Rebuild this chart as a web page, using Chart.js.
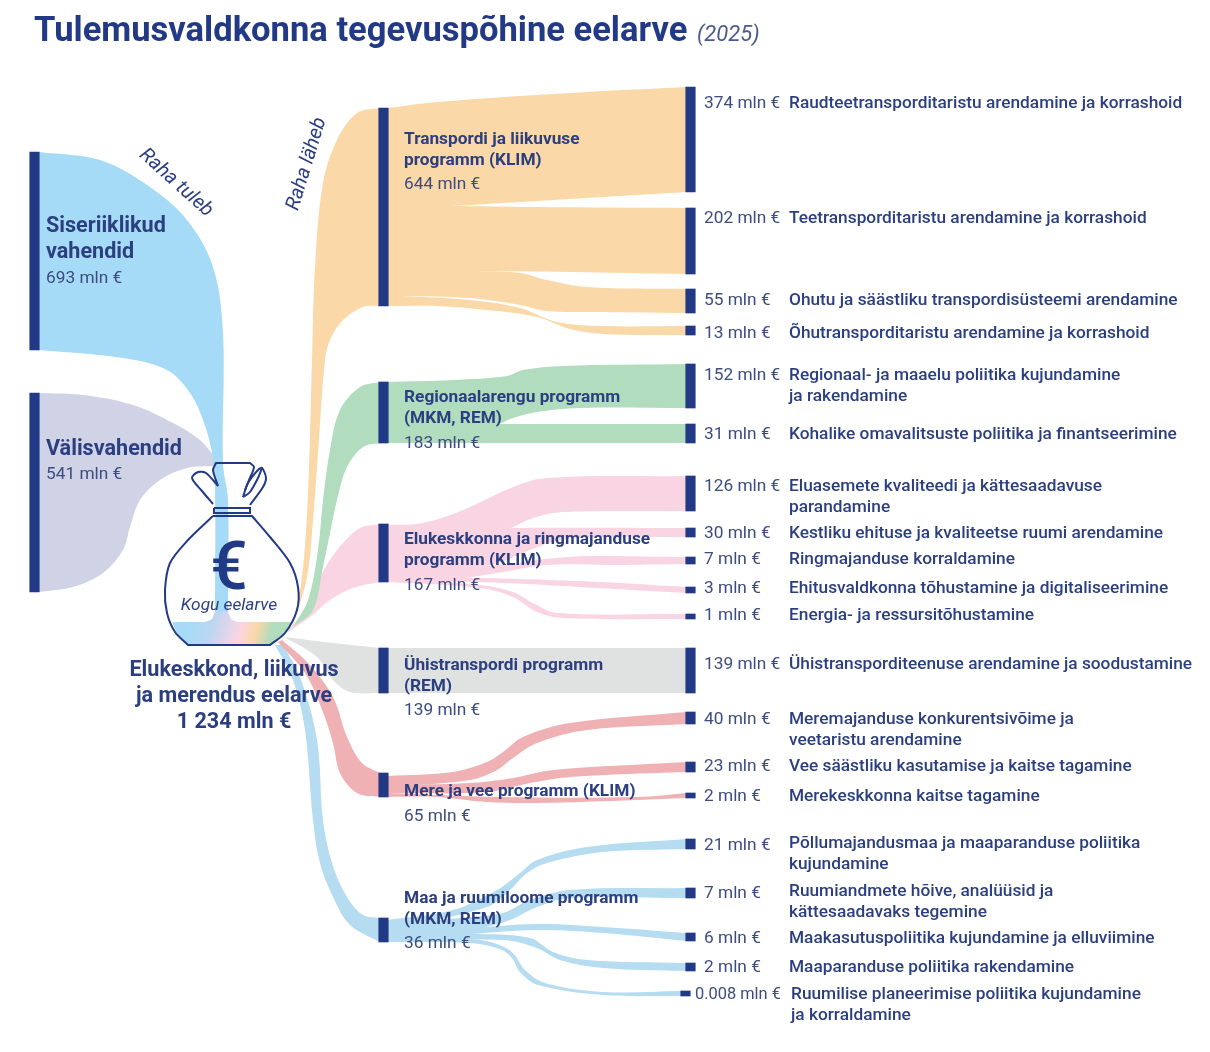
<!DOCTYPE html>
<html>
<head>
<meta charset="utf-8">
<title>Tulemusvaldkonna tegevuspõhine eelarve</title>
<script src="https://cdn.jsdelivr.net/npm/chart.js@4"></script>
<style>
	html, body { margin: 0; padding: 0; background: #fff; }
	canvas { display: block; }
</style>
</head>
<body>
<canvas id="budgetChart" width="1210" height="1052"></canvas>
<script>
// values (mln €)
const sourceNames = [['Siseriiklikud', 'vahendid'], ['Välisvahendid']];
const sourceValues = [693, 541];
const totalName = ['Elukeskkond, liikuvus', 'ja merendus eelarve'];
const totalValue = '1 234';
const programNames = [
	['Transpordi ja liikuvuse', 'programm (KLIM)'],
	['Regionaalarengu programm', '(MKM, REM)'],
	['Elukeskkonna ja ringmajanduse', 'programm (KLIM)'],
	['Ühistranspordi programm', '(REM)'],
	['Mere ja vee programm (KLIM)'],
	['Maa ja ruumiloome programm', '(MKM, REM)']
];
const programValues = [644, 183, 167, 139, 65, 36];
const activityNames = [
	['Raudteetransporditaristu arendamine ja korrashoid'],
	['Teetransporditaristu arendamine ja korrashoid'],
	['Ohutu ja säästliku transpordisüsteemi arendamine'],
	['Õhutransporditaristu arendamine ja korrashoid'],
	['Regionaal- ja maaelu poliitika kujundamine', 'ja rakendamine'],
	['Kohalike omavalitsuste poliitika ja finantseerimine'],
	['Eluasemete kvaliteedi ja kättesaadavuse', 'parandamine'],
	['Kestliku ehituse ja kvaliteetse ruumi arendamine'],
	['Ringmajanduse korraldamine'],
	['Ehitusvaldkonna tõhustamine ja digitaliseerimine'],
	['Energia- ja ressursitõhustamine'],
	['Ühistransporditeenuse arendamine ja soodustamine'],
	['Meremajanduse konkurentsivõime ja', 'veetaristu arendamine'],
	['Vee säästliku kasutamise ja kaitse tagamine'],
	['Merekeskkonna kaitse tagamine'],
	['Põllumajandusmaa ja maaparanduse poliitika', 'kujundamine'],
	['Ruumiandmete hõive, analüüsid ja', 'kättesaadavaks tegemine'],
	['Maakasutuspoliitika kujundamine ja elluviimine'],
	['Maaparanduse poliitika rakendamine'],
	['Ruumilise planeerimise poliitika kujundamine', 'ja korraldamine']
];
const activityValues = [374, 202, 55, 13, 152, 31, 126, 30, 7, 3, 1, 139, 40, 23, 2, 21, 7, 6, 2, 0.008];

// diagram layout, in axis units
const sourceSpans = [[152, 350], [393, 592]];
const programSpans = [[108, 306], [382, 443], [524, 582], [648, 693], [773, 797], [918, 942]];
const activitySpans = [[87, 192], [208, 274], [289, 313], [326, 335], [364, 408], [424, 443], [476, 511], [528, 537], [557, 564], [587, 593], [614, 619], [648, 693], [712, 724], [762, 772], [793, 798], [839, 849], [888, 898], [933, 941], [963, 971], [991, 996]];
const sourceX = 34.5, programX = 383.5, activityX = 690.5;
const lastBarX = 685.5;
const activityTextY = [102, 217, 299, 332, 374, 433, 485, 532, 558, 587, 614, 663, 718, 765, 795, 842, 890, 937, 966, 993];
const activityValueY = [102, 217, 299, 332, 374, 433, 485, 532, 558, 587, 614, 663, 718, 765, 795, 844, 892, 937, 966, 993];
const programTextY = [138, 396, 538, 664, 790, 897];
const programValueY = [183, 442, 584, 709, 815, 942];

const navy = '#223a85';
const textBlue = '#2b3f80';
const valueBlue = '#3d4c80';
const skyBlue = '#a6dbf7', lavender = '#d0d2e6', orange = '#fbd8a8', green = '#b1dcbd', pink = '#f9d5e3', grey = '#e0e1e1', red = '#f0b1b4', paleBlue = '#b5dcf0';

// ribbon edges, left to right [x, y]; ends are kept sharp
const edge = (pts) => pts.map(p => ({ x: p[0], y: p[1] }));
function outline(top, bottom) {
	const a = edge(top), b = edge(bottom).reverse();
	return [a[0], ...a, a[a.length - 1], b[0], ...b, b[b.length - 1]];
}
function ribbon(color, top, bottom) {
	return {
		type: 'line', order: 5, data: outline(top, bottom), backgroundColor: color, borderWidth: 0,
		fill: 'shape', tension: 0.35, pointRadius: 0, clip: false
	};
}
// from a program bar to activity bar i
const flowL = 388, flowR = 686;
function flow(color, i, y0, y1, topVia, botVia, right) {
	const r = right || flowR;
	return ribbon(color,
		[[flowL, y0], ...topVia, [r, activitySpans[i][0]]],
		[[flowL, y1], ...botVia, [r, activitySpans[i][1]]]);
}

const incoming = [
	ribbon(skyBlue,
		[[39, sourceSpans[0][0]], [100, 160], [150, 187], [187, 220], [213, 267], [223, 333], [223, 463], [228, 500], [228, 622]],
		[[39, sourceSpans[0][1]], [123, 358], [167, 370], [190, 393], [203, 420], [212, 453], [215, 493], [215, 622]]),
	ribbon(lavender,
		[[39, sourceSpans[1][0]], [83, 395], [133, 405], [173, 423], [200, 440], [214, 456]],
		[[39, sourceSpans[1][1]], [73, 587], [103, 573], [123, 550], [130, 527], [140, 500], [160, 480], [187, 468], [214, 466]])
];
const outgoing = [
	ribbon(orange,
		[[292, 628], [302, 577], [308, 493], [312, 360], [315, 267], [323, 183], [337, 140], [357, 113], [380, programSpans[0][0]]],
		[[292, 628], [307, 577], [313, 520], [318, 453], [325, 360], [330, 340], [343, 320], [363, 307], [380, programSpans[0][1]]]),
	ribbon(green,
		[[293, 627], [308, 600], [318, 550], [323, 500], [330, 450], [340, 410], [360, 387], [380, programSpans[1][0]]],
		[[293, 627], [313, 610], [323, 567], [330, 533], [337, 500], [347, 467], [363, 447], [380, programSpans[1][1]]]),
	ribbon(pink,
		[[288, 630], [303, 613], [317, 583], [330, 560], [343, 543], [360, 528], [380, programSpans[2][0]]],
		[[288, 632], [310, 617], [330, 600], [353, 588], [380, programSpans[2][1]]]),
	ribbon(grey,
		[[284, 637], [333, 643], [380, programSpans[3][0]]],
		[[284, 637], [317, 657], [333, 680], [350, 692], [380, programSpans[3][1]]]),
	ribbon(red,
		[[282, 640], [308, 663], [333, 697], [347, 737], [362, 763], [380, programSpans[4][0]]],
		[[278, 642], [305, 673], [321, 707], [333, 743], [340, 773], [357, 793], [380, programSpans[4][1]]]),
	ribbon(paleBlue,
		[[283, 645], [300, 677], [317, 740], [323, 820], [332, 863], [347, 897], [363, 915], [380, programSpans[5][0]]],
		[[275, 645], [293, 680], [305, 730], [313, 820], [320, 863], [333, 897], [350, 925], [380, programSpans[5][1]]])
];
const transport = [
	flow(orange, 0, 108, 206, [[437, 102], [570, 93]], [[450, 206], [503, 203], [603, 197]]),
	flow(orange, 1, 206, 271, [[450, 206], [537, 207]], [[470, 271], [570, 272]]),
	flow(orange, 2, 271, 296, [[470, 271], [520, 273], [547, 280], [587, 287]], [[403, 296], [470, 298], [520, 305], [547, 311], [590, 312]]),
	flow(orange, 3, 296, 306, [[403, 296], [470, 300], [520, 308], [557, 322], [603, 326]], [[437, 306], [487, 310], [537, 317], [570, 329], [603, 334]])
];
const regional = [
	flow(green, 4, 382, 424, [[453, 380], [507, 376], [523, 370], [563, 366]], [[497, 424], [513, 418], [537, 412], [580, 408]]),
	flow(green, 5, 424, 443, [[497, 424]], [[540, 443]])
];
const living = [
	flow(pink, 6, 525, 560, [[423, 523], [463, 510], [513, 487], [547, 478]], [[447, 552], [487, 538], [513, 527], [533, 518], [563, 512]]),
	flow(pink, 7, 530, 575, [[513, 528]], [[490, 565], [530, 550], [560, 540], [600, 537]]),
	flow(pink, 8, 570, 582, [[500, 565], [545, 559], [590, 556]], [[447, 580], [497, 573], [547, 565], [613, 565]]),
	flow(pink, 9, 578, 582, [[480, 578], [600, 582]], [[480, 582], [580, 587]]),
	flow(pink, 10, 578, 582, [[480, 585], [513, 592], [533, 603], [557, 613]], [[480, 588], [513, 597], [537, 612], [563, 618]])
];
const publicTransport = [flow(grey, 11, 648, 693, [[500, 648]], [[500, 693]])];
const sea = [
	flow(red, 12, 776, 787, [[453, 772], [487, 762], [503, 752], [523, 737], [570, 723]], [[470, 780], [497, 770], [513, 758], [537, 743], [587, 730]]),
	flow(red, 13, 785, 793, [[470, 783], [513, 778], [553, 770]], [[487, 792], [530, 783], [570, 777]]),
	flow(red, 14, 793, 797, [[500, 797], [637, 797]], [[437, 797], [487, 802], [537, 803], [637, 800]])
];
const land = [
	flow(paleBlue, 15, 920, 930, [[453, 910], [497, 890], [520, 873], [537, 860], [587, 847]], [[487, 907], [510, 890], [527, 873], [547, 863], [603, 852]]),
	flow(paleBlue, 16, 925, 935, [[470, 917], [503, 913], [530, 900], [570, 890]], [[470, 930], [510, 920], [537, 907], [570, 898]]),
	flow(paleBlue, 17, 930, 938, [[470, 928], [537, 924], [603, 927]], [[470, 934], [537, 930], [603, 933]]),
	flow(paleBlue, 18, 935, 941, [[470, 934], [530, 938], [553, 952], [587, 960]], [[503, 940], [537, 948], [560, 960], [603, 968]]),
	flow(paleBlue, 19, 938, 942, [[470, 939], [497, 944], [513, 953], [525, 970], [545, 983], [603, 992]], [[470, 943], [500, 949], [512, 958], [520, 972], [538, 985], [603, 995]], 681)
];

// money bag drawn as open lines
function bagLine(pts, tension) {
	return {
		type: 'line', order: 1, data: edge(pts), borderColor: navy, borderWidth: 2, fill: false,
		tension: tension === undefined ? 0.3 : tension, pointRadius: 0, clip: false
	};
}
const bag = [
	bagLine([[213, 516], [188, 540], [170, 563], [165, 590], [167, 613], [175, 632], [188, 645], [188, 645], [270, 645], [270, 645], [285, 633], [297, 610], [298, 587], [290, 563], [270, 537], [252, 516], [252, 516], [213, 516]]),
	bagLine([[214, 508], [214, 508], [250, 508], [250, 508], [250, 513], [250, 513], [214, 513], [214, 513], [214, 508]], 0),
	bagLine([[218, 486], [213, 470], [216, 463], [216, 463], [250, 463], [250, 463], [254, 467], [249, 480], [245, 490]]),
	bagLine([[218, 486], [218, 486], [206, 473], [198, 472], [192, 478], [202, 491], [213, 504]]),
	bagLine([[243, 497], [243, 497], [248, 483], [258, 470], [262, 468], [266, 478], [263, 487], [250, 505]]),
	bagLine([[243, 497], [243, 497], [250, 492], [258, 478], [262, 468]])
];

const pool = {
	type: 'line', order: 4,
	data: outline([[172, 622], [205, 622], [212, 619], [215, 612], [228, 612], [231, 619], [238, 622], [291, 622]],
		[[172, 622], [177, 633], [188, 645], [270, 645], [284, 634], [291, 622]]),
	fill: 'shape', borderWidth: 0, tension: 0.1, pointRadius: 0, clip: false,
	backgroundColor: (c) => {
		const s = c.chart.scales;
		if (!s.x || !Number.isFinite(s.x.getPixelForValue(172))) return skyBlue;
		const g = c.chart.ctx.createLinearGradient(s.x.getPixelForValue(190), s.y.getPixelForValue(625), s.x.getPixelForValue(285), s.y.getPixelForValue(650));
		g.addColorStop(0, skyBlue);
		g.addColorStop(0.22, '#bcd6f2');
		g.addColorStop(0.5, pink);
		g.addColorStop(0.66, orange);
		g.addColorStop(0.82, green);
		g.addColorStop(1, green);
		return g;
	}
};

const barData = [
	...sourceSpans.map(s => ({ x: sourceX, y: s })),
	...programSpans.map(s => ({ x: programX, y: s })),
	...activitySpans.map((s, i) => ({ x: i === activitySpans.length - 1 ? lastBarX : activityX, y: s }))
];

const captions = {
	id: 'captions',
	afterDatasetsDraw(chart) {
		const { ctx, scales } = chart;
		const put = (str, x, y, font, color, align, rot) => {
			ctx.save();
			ctx.font = font;
			ctx.fillStyle = color;
			ctx.textAlign = align || 'left';
			ctx.textBaseline = 'middle';
			// canvas "middle" sits above the cap height centre, push it down a bit
			const drop = rot ? 0 : parseFloat(font.match(/([\d.]+)px/)[1]) * 0.115;
			ctx.translate(scales.x.getPixelForValue(x), scales.y.getPixelForValue(y + drop));
			if (rot) ctx.rotate(rot * Math.PI / 180);
			ctx.fillText(str, 0, 0);
			ctx.restore();
		};
		const bold = '700 17.3px Roboto', name = '500 17.3px Roboto', plain = '400 17.3px Roboto', big = '700 21.6px Roboto';

		put('Tulemusvaldkonna tegevuspõhine eelarve', 34, 28, '700 34.55px Roboto', navy);
		put('(2025)', 697, 33, 'italic 400 22px Roboto', '#4a5a8c');

		put(sourceNames[0][0], 46, 224, big, textBlue);
		put(sourceNames[0][1], 46, 250, big, textBlue);
		put(sourceValues[0] + ' mln €', 46, 277, plain, valueBlue);
		put(sourceNames[1][0], 46, 447, big, textBlue);
		put(sourceValues[1] + ' mln €', 46, 473, plain, valueBlue);

		put('Raha tuleb', 176, 183, 'italic 400 20px Roboto', textBlue, 'center', 42);
		put('Raha läheb', 307, 164, 'italic 400 20px Roboto', textBlue, 'center', -73);

		put('€', 229, 565, '500 66px Roboto', navy, 'center');
		put('Kogu eelarve', 229, 604, 'italic 400 17.3px Roboto', textBlue, 'center');
		put(totalName[0], 234, 668, big, textBlue, 'center');
		put(totalName[1], 234, 694, big, textBlue, 'center');
		put(totalValue + ' mln €', 234, 720, big, textBlue, 'center');

		programNames.forEach((lines, i) => {
			lines.forEach((l, k) => put(l, 404, programTextY[i] + k * 21, bold, textBlue));
			put(programValues[i] + ' mln €', 404, programValueY[i], plain, valueBlue);
		});
		activityNames.forEach((lines, i) => {
			const last = i === activityNames.length - 1;
			put(activityValues[i] + ' mln €', last ? 695 : 704, activityValueY[i], last ? '400 16.4px Roboto' : plain, valueBlue);
			lines.forEach((l, k) => put(l, last ? 791 : 789, activityTextY[i] + k * 21, name, textBlue));
		});
	}
};

const budgetChart = new Chart(document.getElementById('budgetChart').getContext('2d'), {
	type: 'bar',
	data: {
		datasets: [
			{ type: 'bar', order: 0, data: barData, backgroundColor: navy, barThickness: 9.5, grouped: false },
			...bag, pool,
			...incoming, ...outgoing, ...transport, ...regional, ...living, ...publicTransport, ...sea, ...land
		]
	},
	options: {
		animation: false,
		responsive: false,
		layout: { padding: 0 },
		scales: {
			x: { type: 'linear', min: 0, max: 1210, display: false, offset: false },
			y: { type: 'linear', min: 0, max: 1052, reverse: true, display: false }
		},
		plugins: { legend: { display: false }, tooltip: { enabled: false }, title: { display: false } }
	},
	plugins: [captions]
});
</script>
</body>
</html>
